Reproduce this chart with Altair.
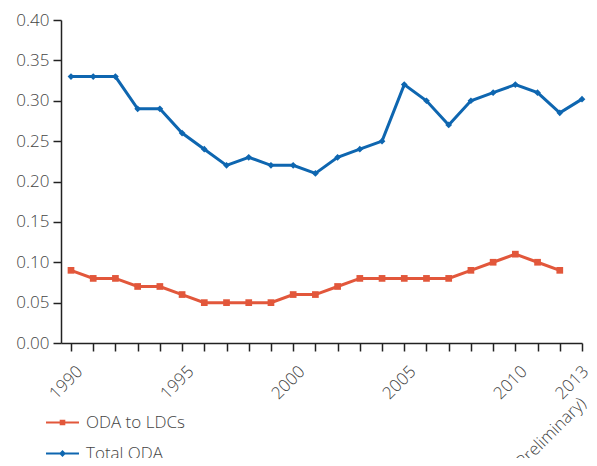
import altair as alt
import pandas as pd

years = list(range(1990, 2014))
total_oda = [0.33, 0.33, 0.33, 0.29, 0.29, 0.26, 0.24, 0.22, 0.23, 0.22, 0.22, 0.21,
             0.23, 0.24, 0.25, 0.32, 0.30, 0.27, 0.30, 0.31, 0.32, 0.31, 0.285, 0.302]
oda_ldcs = [0.09, 0.08, 0.08, 0.07, 0.07, 0.06, 0.05, 0.05, 0.05, 0.05, 0.06, 0.06,
            0.07, 0.08, 0.08, 0.08, 0.08, 0.08, 0.09, 0.10, 0.11, 0.10, 0.09]
series_names = ["ODA to LDCs", "Total ODA"]
y_ticks = [0.0, 0.05, 0.10, 0.15, 0.20, 0.25, 0.30, 0.35, 0.40]
last_note = "(Preliminary)"

rows = []
for yr, v in zip(years, oda_ldcs):
    rows.append({"year": yr, "value": v, "series": series_names[0]})
for yr, v in zip(years, total_oda):
    rows.append({"year": yr, "value": v, "series": series_names[1]})
df = pd.DataFrame(rows)
note_df = pd.DataFrame({"year": [years[-1]], "value": [y_ticks[0]], "note": [last_note]})

colors = ["#E2573B", "#0E66B0"]
FONT = "Open Sans"
TXT = "#444444"

x_enc = alt.X(
    "year:Q",
    scale=alt.Scale(domain=[1989.55, 2013], nice=False, zero=False),
    axis=alt.Axis(
        values=years,
        labelExpr="(datum.value % 5 == 0 || datum.value == 2013) ? datum.value : ''",
        labelAngle=315,
        labelAlign="right",
        labelBaseline="top",
        labelPadding=12,
        labelOffset={"condition": {"test": "datum.value == 2013", "value": -2}, "value": 3},
        tickSize=8,
        title=None,
        grid=False,
        labelFlush=False,
        labelOverlap=False,
    ),
)
y_enc = alt.Y(
    "value:Q",
    scale=alt.Scale(domain=[0, 0.4], nice=False),
    axis=alt.Axis(values=y_ticks, format=".2f", tickSize=8, title=None, grid=False, labelPadding=4),
)

color_scale = alt.Scale(domain=series_names, range=colors)

lines = alt.Chart(df).mark_line(strokeWidth=3).encode(
    x=x_enc, y=y_enc,
    color=alt.Color("series:N", scale=color_scale, legend=None),
    detail="series:N",
)

points = alt.Chart(df).mark_point(filled=True, opacity=1).encode(
    x=x_enc, y=y_enc,
    color=alt.Color("series:N", scale=color_scale, legend=None),
    shape=alt.Shape("series:N", scale=alt.Scale(domain=series_names, range=["square", "diamond"]), legend=None),
    size=alt.value(45),
)

note = alt.Chart(note_df).mark_text(
    angle=315, align="right", baseline="top", dx=-40, dy=34,
    font=FONT, fontSize=17, fontWeight=300, color=TXT,
).encode(x=x_enc, y=y_enc, text="note:N")

leg_square = "M-2,-0.12H2V0.12H-2Z M-0.34,-0.34H0.34V0.34H-0.34Z"
leg_diamond = "M-2,-0.12H2V0.12H-2Z M0,-0.42L0.42,0L0,0.42L-0.42,0Z"

legend_def = alt.Legend(
    title=None,
    orient="none",
    legendX=-7,
    legendY=394,
    symbolSize=272,
    symbolStrokeWidth=0,
    symbolOpacity=1,
    labelFont=FONT,
    labelFontSize=17,
    labelFontWeight=300,
    labelColor=TXT,
    labelOffset=15,
    rowPadding=13,
    direction="vertical",
)

legend_layer = alt.Chart(df).transform_filter("false").mark_point(filled=True).encode(
    x=x_enc, y=y_enc,
    color=alt.Color("series:N", scale=alt.Scale(domain=series_names, range=colors), legend=legend_def),
    shape=alt.Shape("series:N", scale=alt.Scale(domain=series_names, range=[leg_square, leg_diamond]), legend=legend_def),
)

chart = alt.layer(lines, points, note, legend_layer).resolve_scale(
    color="independent", shape="independent"
).properties(
    width=521, height=323,
    autosize=alt.AutoSizeParams(type="none"),
    padding={"left": 53, "top": 12, "right": 7, "bottom": 115},
).configure_view(stroke=None, clip=False).configure_axis(
    labelFont=FONT, labelFontSize=17, labelFontWeight=300, labelColor=TXT,
    domainColor="#222", tickColor="#222", domainWidth=1.5, tickWidth=1.5,
)

chart.save("out.html", embed_options={"renderer": "svg", "actions": False})
